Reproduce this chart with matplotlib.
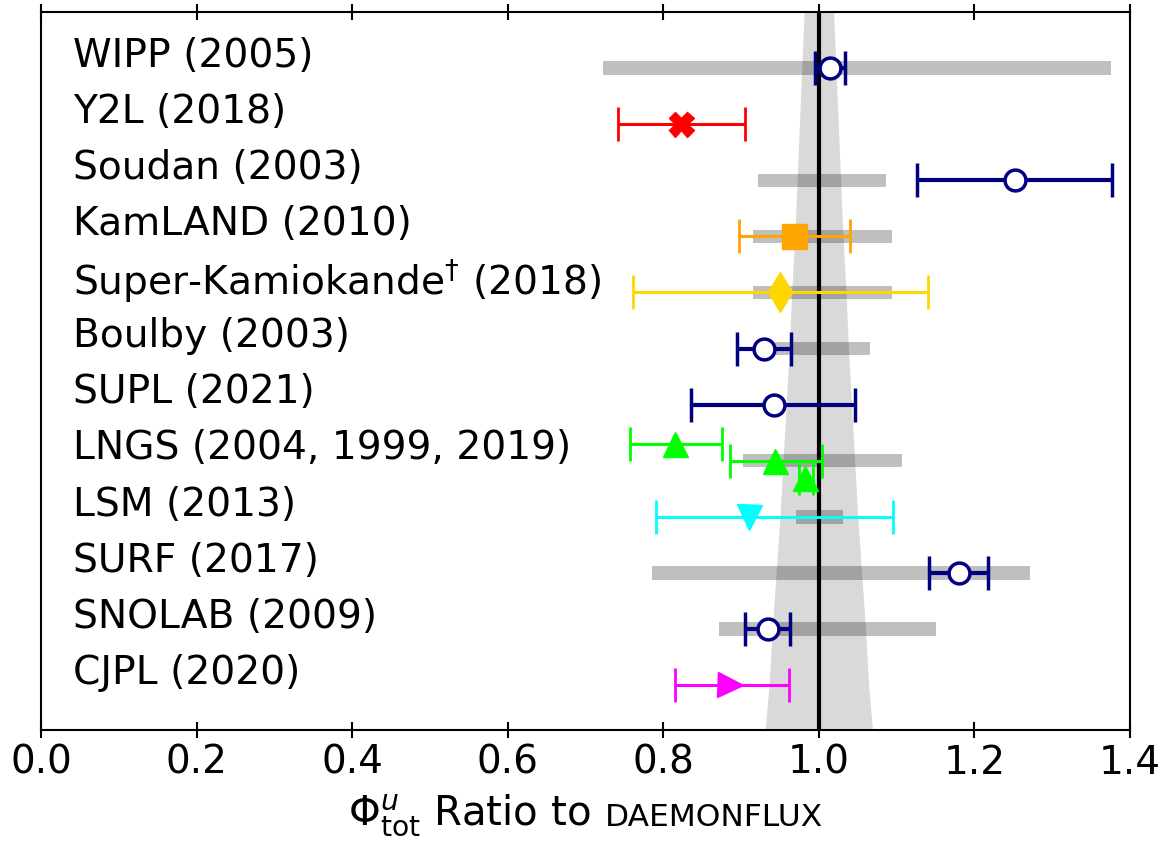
import matplotlib
matplotlib.use("Agg")
from matplotlib import pyplot as plt
from matplotlib.offsetbox import TextArea, HPacker, AnchoredOffsetbox

# site labels, top to bottom
labels = ["WIPP (2005)", "Y2L (2018)", "Soudan (2003)", "KamLAND (2010)",
          "Super-Kamiokande$^{\\dagger}$ (2018)", "Boulby (2003)", "SUPL (2021)",
          "LNGS (2004, 1999, 2019)", "LSM (2013)", "SURF (2017)",
          "SNOLAB (2009)", "CJPL (2020)"]

# measurements (ratio to DAEMONFLUX)
meas_site = [0, 1, 2, 3, 4, 5, 6, 7, 7, 7, 8, 9, 10, 11]
meas_val = [1.014, 0.823, 1.252, 0.968, 0.950, 0.930, 0.942,
            0.815, 0.944, 0.982, 0.910, 1.180, 0.934, 0.886]
meas_lo = [0.995, 0.742, 1.126, 0.897, 0.761, 0.895, 0.835,
           0.757, 0.886, 0.974, 0.791, 1.142, 0.905, 0.815]
meas_hi = [1.034, 0.905, 1.377, 1.040, 1.140, 0.964, 1.047,
           0.875, 1.004, 0.992, 1.095, 1.217, 0.963, 0.961]

# other model ranges (gray bars)
model_site = [0, 2, 3, 4, 5, 7, 8, 9, 10]
model_lo = [0.722, 0.922, 0.915, 0.915, 0.943, 0.902, 0.971, 0.786, 0.871]
model_hi = [1.375, 1.086, 1.094, 1.094, 1.066, 1.107, 1.031, 1.272, 1.151]

# DAEMONFLUX uncertainty band half-width along the rows
band_pos = [-1.0, 0, 1, 2, 3, 4, 5, 6, 7, 8, 9, 10, 11, 11.8]
band_half = [0.019, 0.022, 0.025, 0.028, 0.031, 0.035, 0.038, 0.042,
             0.046, 0.050, 0.055, 0.060, 0.064, 0.069]

# styles
markers = ["o", "X", "o", "s", "d", "o", "o", "^", "^", "^", "v", "o", "o", ">"]
colors = ["navy", "red", "navy", "orange", "gold", "navy", "navy",
          "lime", "lime", "lime", "cyan", "navy", "navy", "magenta"]
offsets = [0, 0, 0, 0, 0, 0, 0, -0.3, 0, 0.3, 0, 0, 0, 0]

fig = plt.figure(figsize=(11.63, 8.42), dpi=100)
ax = fig.add_axes([41 / 1163, 1 - 730 / 842, 1089 / 1163, 718 / 842])

ax.barh(model_site, [h - l for l, h in zip(model_lo, model_hi)], left=model_lo,
        height=0.24, color="#bfbfbf", zorder=1)
ax.fill_betweenx(band_pos, [1 - h for h in band_half], [1 + h for h in band_half],
                 color="k", alpha=0.15, lw=0, zorder=2)
ax.axvline(1.0, color="k", lw=3, zorder=3)

for i in range(len(meas_val)):
    y = meas_site[i] + offsets[i]
    v = meas_val[i]
    err = [[v - meas_lo[i]], [meas_hi[i] - v]]
    if markers[i] == "o":
        ax.errorbar(v, y, xerr=err, fmt="o", color=colors[i], mfc="white",
                    mec=colors[i], mew=2.5, ms=15, elinewidth=3, capthick=3,
                    capsize=12, zorder=5)
    else:
        ms = 18 if markers[i] != "d" else 20
        ax.errorbar(v, y, xerr=err, fmt=markers[i], color=colors[i], ms=ms,
                    elinewidth=2.2, capthick=2, capsize=12, zorder=4)

for i, lab in enumerate(labels):
    ax.text(0.041, i - 0.22, lab, fontsize=28.2, va="center", ha="left")

ax.set_xlim(0, 1.4)
ax.set_ylim(11.8, -1.0)
ax.set_xticks([0.0, 0.2, 0.4, 0.6, 0.8, 1.0, 1.2, 1.4])
ax.set_yticks([])
ax.tick_params(axis="x", direction="inout", top=True, length=12, width=1.5,
               labelsize=28, pad=4)
for s in ax.spines.values():
    s.set_linewidth(1.5)

xl = HPacker(children=[TextArea("$\\Phi^u_{\\rm tot}$ Ratio to",
                                textprops=dict(fontsize=29)),
                       TextArea("DAEMONFLUX", textprops=dict(fontsize=22.5))],
             align="baseline", pad=0, sep=10)
box = AnchoredOffsetbox(loc="upper center", child=xl, frameon=False,
                        bbox_to_anchor=(0.5, -0.088), bbox_transform=ax.transAxes,
                        borderpad=0, pad=0)
ax.add_artist(box)

fig.savefig("out.png", dpi=100)
